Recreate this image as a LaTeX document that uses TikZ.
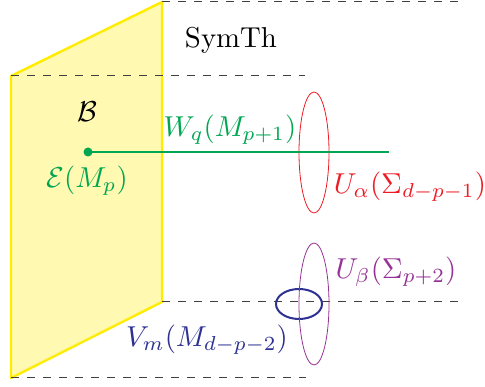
\documentclass[tikz,border=0pt]{standalone}
\usepackage{amsmath}
\definecolor{myyellow}{RGB}{255,236,0}
\definecolor{myfill}{RGB}{255,249,178}
\definecolor{mygreen}{RGB}{0,166,81}
\definecolor{myred}{RGB}{237,28,36}
\definecolor{mypurple}{RGB}{150,50,150}
\definecolor{myblue}{RGB}{46,49,146}
\tikzset{
  dashline/.style={draw=black!75, line width=1pt, dash pattern=on 8pt off 8pt},
  lbl/.style={inner sep=0pt, scale=2.88},
}
\begin{document}
\begin{tikzpicture}[x=1pt,y=-1pt]
\useasboundingbox (0,0) rectangle (485,387);
% boundary plane
\coordinate (p1) at (11,76);
\coordinate (p2) at (162,2);
\coordinate (p3) at (162,302);
\coordinate (p4) at (11,378);
\filldraw[fill=myfill, draw=myyellow, line width=2.4pt, line join=round] (p1) -- (p2) -- (p3) -- (p4) -- cycle;
% dashed lines
\coordinate (d1) at (458,2);
\coordinate (d2) at (305,76);
\coordinate (d3) at (458,302);
\coordinate (d4) at (306,378);
\draw[dashline] (p2) -- (d1);
\draw[dashline] (p1) -- (d2);
\draw[dashline] (p3) -- (d3);
\draw[dashline] (p4) -- (d4);
% texts
\node[lbl] (symth) at (231,40) {SymTh};
\node[lbl] (B) at (87,112) {$\mathcal{B}$};
% ellipses
\draw[myred, line width=0.8pt] (314,152.5) ellipse [x radius=15, y radius=60.5];
% green line
\node[circle, fill=mygreen, inner sep=0pt, minimum size=9pt] (E) at (88,152) {};
\coordinate (Wend) at (389,152);
\draw[mygreen, line width=2.4pt] (E.center) -- (Wend);
\node[lbl, text=mygreen] (Elbl) at (87,181) {$\mathcal{E}(M_p)$};
\node[lbl, text=mygreen] (Wlbl) at (230,130) {$W_q(M_{p+1})$};
\node[lbl, text=myred] (Ulbl) at (410,187) {$U_\alpha(\Sigma_{d-p-1})$};
% blue and purple
\draw[myblue, line width=2pt] (299,304) ellipse [x radius=23, y radius=15];
\draw[mypurple, line width=0.8pt] (314,304) ellipse [x radius=15, y radius=61];
\node[lbl, text=mypurple] (Ublbl) at (396,272) {$U_\beta(\Sigma_{p+2})$};
\node[lbl, text=myblue] (Vlbl) at (207,340) {$V_m(M_{d-p-2})$};
\end{tikzpicture}
\end{document}
